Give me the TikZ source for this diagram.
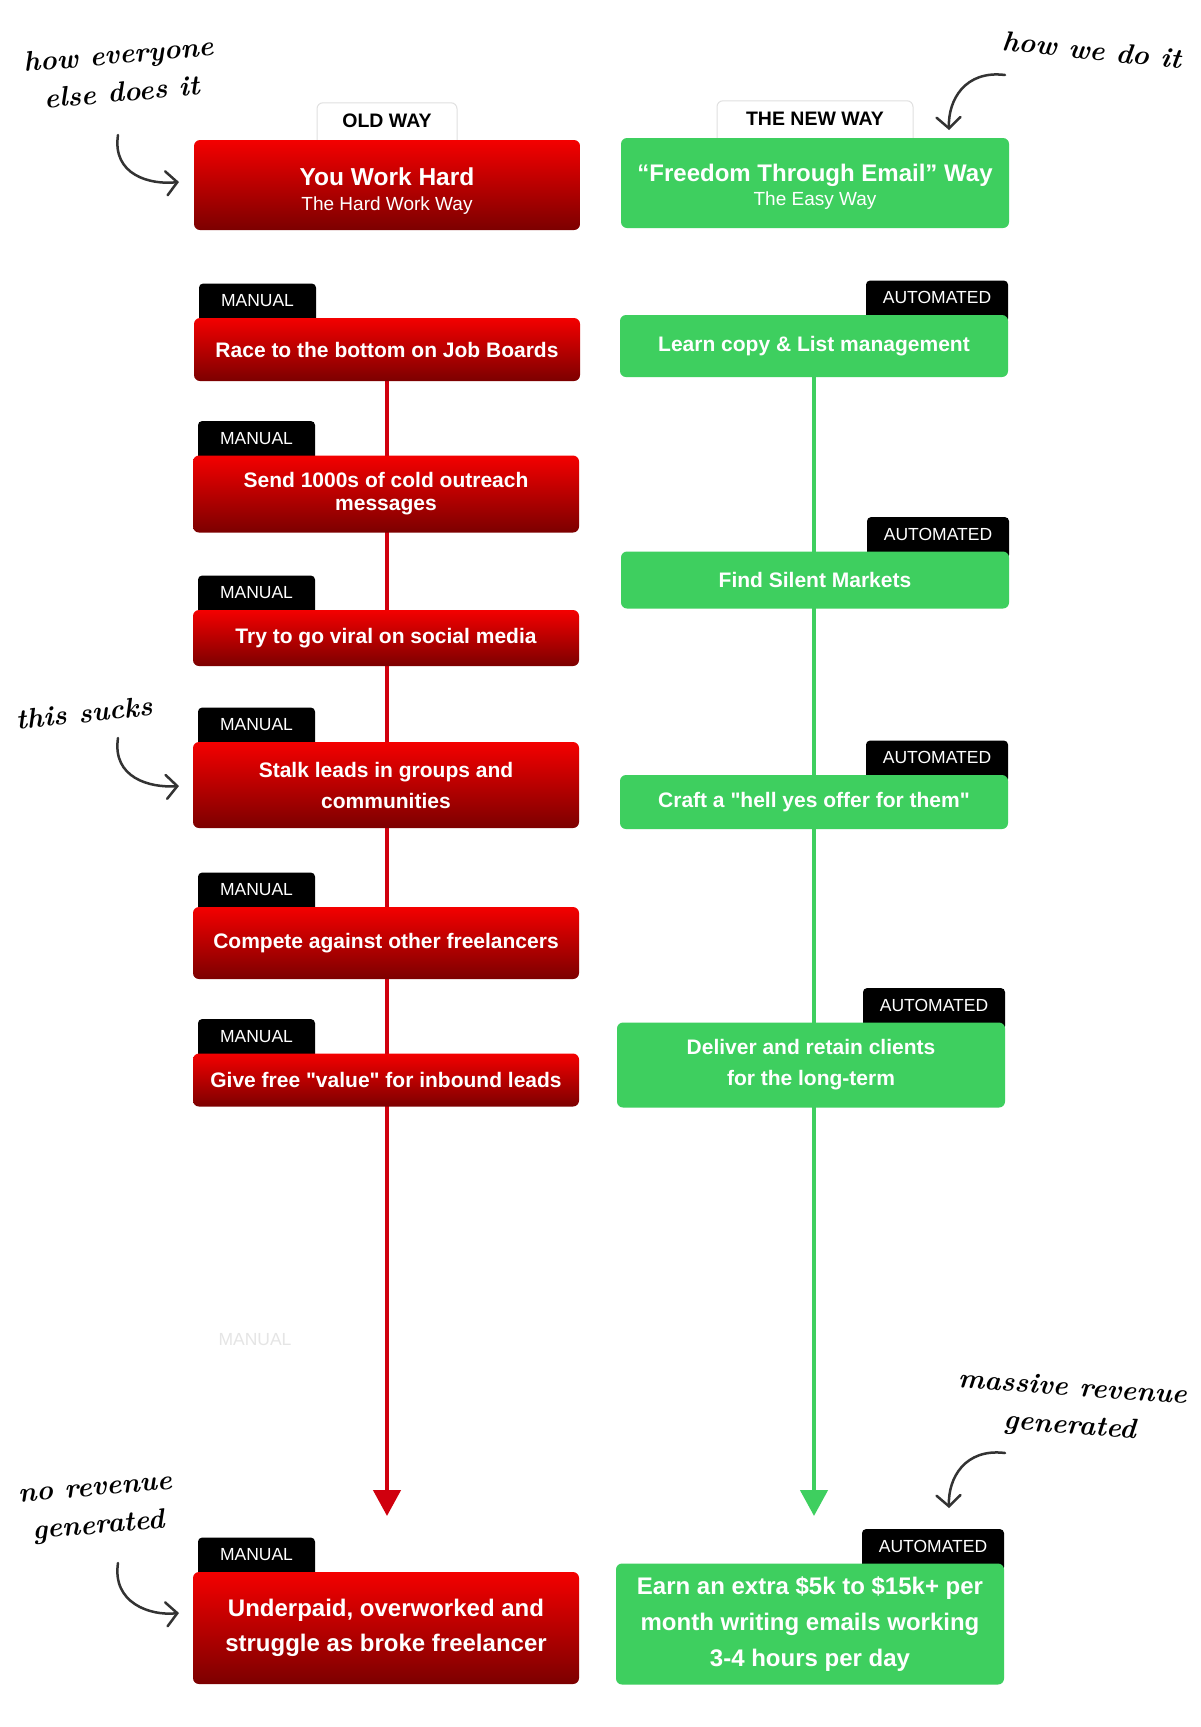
\documentclass[tikz,border=0pt]{standalone}
\usepackage{fontspec}
\setsansfont{Liberation Sans}
\usetikzlibrary{arrows.meta, positioning}
\pgfdeclarelayer{background}
\pgfsetlayers{background,main}
\definecolor{RedTop}{HTML}{F40000}
\definecolor{RedBot}{HTML}{7C0000}
\definecolor{RedLine}{HTML}{D0000E}
\definecolor{GreenFill}{HTML}{3ECF5F}
\definecolor{HandInk}{HTML}{333333}

\begin{document}
\begin{tikzpicture}[x = 1pt, y = 1pt]
\tikzstyle{RedBox}=[
rounded corners = 6pt,
top color = RedTop,
bottom color = RedBot,
text = white,
align = center,
minimum width = 386pt,
inner sep = 0pt,
font = \sffamily\bfseries\fontsize{21}{23}\selectfont]
\tikzstyle{GreenBox}=[
rounded corners = 6pt,
fill = GreenFill,
text = white,
align = center,
minimum width = 388pt,
inner sep = 0pt,
font = \sffamily\bfseries\fontsize{21}{23}\selectfont]
\tikzstyle{TabStyle}=[
rounded corners = 4pt,
fill = black,
text = white,
inner sep = 0pt,
text depth = 8pt,
font = \sffamily\fontsize{17.5}{20}\selectfont]
\tikzstyle{HeadTab}=[
rounded corners = 6pt,
fill = white,
draw = black!12,
line width = 1pt,
text = black,
inner sep = 0pt,
text depth = 8pt,
font = \sffamily\bfseries\fontsize{19.5}{22}\selectfont]
\tikzstyle{HandStyle}=[
text = black,
align = center,
inner sep = 0pt,
font = \rmfamily\bfseries\itshape\fontsize{28}{38}\selectfont]
\tikzstyle{HandArrow}=[
HandInk,
line width = 2.5pt,
line cap = round,
-{Straight Barb[length = 11pt, width = 24pt, line cap = round]}]

\begin{pgfonlayer}{background}
\fill[white] (0,0) rectangle (1200,-1727);
\end{pgfonlayer}
\useasboundingbox (0,0) rectangle (1200,-1727);

% old way column
\node[RedBox, minimum height = 90pt] (old0) at (387,-185)
  {{\rule{0pt}{30pt}\fontsize{24.5}{27}\selectfont You Work Hard}\\[2pt]
   {\mdseries\fontsize{19}{21}\selectfont The Hard Work Way}};
\node[RedBox, minimum height = 63pt] (old1) at (387,-349.5) {Race to the bottom on Job Boards};
\node[RedBox, minimum height = 77pt] (old2) at (386,-494) {Send 1000s of cold outreach\\messages};
\node[RedBox, minimum height = 56pt] (old3) at (386,-638) {Try to go viral on social media};
\node[RedBox, minimum height = 86pt, font = \sffamily\bfseries\fontsize{21}{31}\selectfont] (old4) at (386,-785) {Stalk leads in groups and\\communities};
\node[RedBox, minimum height = 72pt] (old5) at (386,-943) {Compete against other freelancers};
\node[RedBox, minimum height = 53pt] (old6) at (386,-1080) {Give free \textquotedbl value\textquotedbl{} for inbound leads};
\node[RedBox, minimum height = 112pt, font = \sffamily\bfseries\fontsize{24}{35}\selectfont] (old7) at (386,-1628) {Underpaid, overworked and\\struggle as broke freelancer};
\coordinate (oldend) at (387,-1516);
\node[text = black!10, font = \sffamily\fontsize{17.5}{20}\selectfont] (ghost) at (255,-1340) {MANUAL};

% new way column
\node[GreenBox, minimum height = 90pt] (new0) at (815,-183)
  {{\rule{0pt}{24pt}\fontsize{24}{27}\selectfont “Freedom Through Email” Way}\\[1pt]
   {\mdseries\fontsize{19}{21}\selectfont The Easy Way}};
\node[GreenBox, minimum height = 62pt] (new1) at (814,-346) {Learn copy \& List management};
\node[GreenBox, minimum height = 57pt] (new2) at (815,-580) {Find Silent Markets};
\node[GreenBox, minimum height = 54pt] (new3) at (814,-802) {Craft a \textquotedbl hell yes offer for them\textquotedbl};
\node[GreenBox, minimum height = 85pt, font = \sffamily\bfseries\fontsize{21}{31}\selectfont] (new4) at (811,-1065) {Deliver and retain clients\\for the long-term};
\node[GreenBox, minimum height = 121pt, font = \sffamily\bfseries\fontsize{24}{36}\selectfont] (new5) at (810,-1624) {Earn an extra \$5k to \$15k+ per\\month writing emails working\\3-4 hours per day};
\coordinate (newend) at (814,-1516);

\begin{pgfonlayer}{background}
\node[HeadTab, minimum width = 140pt, minimum height = 44.5pt, above = -8pt of old0] (oldtab) {OLD WAY};
\node[HeadTab, minimum width = 196pt, minimum height = 44.5pt, above = -8pt of new0] (newtab) {THE NEW WAY};
\foreach \b in {old1, old2, old3, old4, old5, old6, old7}
  \node[TabStyle, minimum width = 117pt, minimum height = 42pt, anchor = south west]
    (tab-\b) at ([shift = {(5,-8)}]\b.north west) {MANUAL};
\foreach \b in {new1, new2, new3, new4, new5}
  \node[TabStyle, minimum width = 142pt, minimum height = 42pt, anchor = south east]
    (tab-\b) at ([shift = {(0,-8)}]\b.north east) {AUTOMATED};
\draw[RedLine, line width = 4.5pt, -{Triangle[length = 26pt, width = 27pt]}] (old1.south) -- (oldend);
\draw[GreenFill, line width = 4.5pt, -{Triangle[length = 26pt, width = 27pt]}] (new1.south) -- (newend);
\end{pgfonlayer}

% handwritten notes
\node[HandStyle, rotate = 5] (hand1) at (120,-73) {how everyone\\else does it};
\node[HandStyle, rotate = -6] (hand2) at (1092,-50) {how we do it};
\node[HandStyle, rotate = 6] (hand3) at (84,-713) {this sucks};
\node[HandStyle, rotate = -4] (hand4) at (1071,-1408) {massive revenue\\generated};
\node[HandStyle, rotate = 5] (hand5) at (97,-1511) {no revenue\\generated};
\coordinate (a1s) at (118,-135);
\coordinate (a1e) at (179,-182);
\coordinate (a2s) at (1005,-75);
\coordinate (a2e) at (949,-130);
\coordinate (a3s) at (118,-738);
\coordinate (a3e) at (179,-786);
\coordinate (a4s) at (1005,-1453);
\coordinate (a4e) at (949,-1508);
\coordinate (a5s) at (118,-1563);
\coordinate (a5e) at (179,-1613);
\draw[HandArrow] (a1s) .. controls (112,-175) and (150,-185) .. (a1e);
\draw[HandArrow] (a2s) .. controls (965,-70) and (948,-100) .. (a2e);
\draw[HandArrow] (a3s) .. controls (112,-778) and (150,-788) .. (a3e);
\draw[HandArrow] (a4s) .. controls (965,-1448) and (948,-1478) .. (a4e);
\draw[HandArrow] (a5s) .. controls (112,-1603) and (150,-1616) .. (a5e);
\end{tikzpicture}
\end{document}
